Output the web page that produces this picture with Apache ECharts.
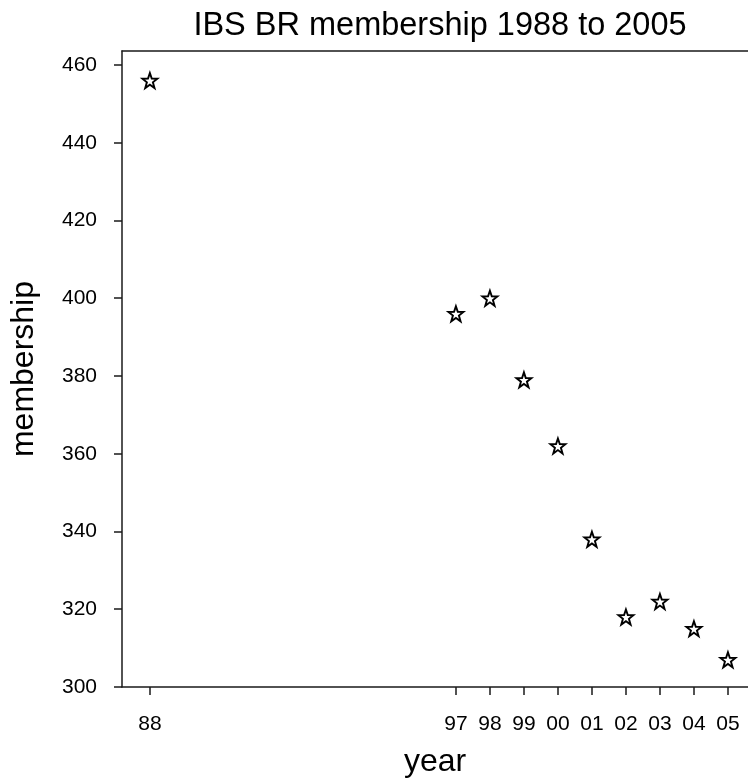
<!DOCTYPE html>
<html>
<head>
<meta charset="utf-8">
<script src="https://cdn.jsdelivr.net/npm/echarts@6/dist/echarts.min.js"></script>
<style>
html,body{margin:0;padding:0;background:#fff;}
#chart{width:748px;height:783px;}
</style>
</head>
<body>
<div id="chart"></div>
<script>
// Data
const years = [1988, 1997, 1998, 1999, 2000, 2001, 2002, 2003, 2004, 2005];
const membership = [456, 396, 400, 379, 362, 338, 318, 322, 315, 307];
const xTickLabels = ['88', '97', '98', '99', '00', '01', '02', '03', '04', '05'];
const yTicks = [300, 320, 340, 360, 380, 400, 420, 440, 460];

const FONT = '"Liberation Sans", Arial, Helvetica, sans-serif';
const STAR = 'path://M50,0L61.8,33.8L97.6,34.5L69,56.2L79.4,90.5L50,70L20.6,90.5L31,56.2L2.4,34.5L38.2,33.8Z';
const LINE = { color: '#1a1a1a', width: 1.5 };

const chart = echarts.init(document.getElementById('chart'), null, { renderer: 'canvas' });
chart.setOption({
  backgroundColor: '#ffffff',
  animation: false,
  title: {
    text: 'IBS BR membership 1988 to 2005',
    left: 440,
    textAlign: 'center',
    top: 10,
    padding: 0,
    textStyle: { fontFamily: FONT, fontSize: 32.5, fontWeight: 'normal', color: '#000' }
  },
  grid: { left: 122, right: 0, top: 51, bottom: 96, containLabel: false },
  xAxis: [{
    type: 'value',
    min: 1987.18,
    max: 2005.59,
    position: 'bottom',
    name: 'year',
    nameLocation: 'middle',
    nameGap: 59,
    nameTextStyle: { fontFamily: FONT, fontSize: 32, color: '#000' },
    axisLine: { show: true, onZero: false, lineStyle: LINE },
    axisTick: { show: true, inside: false, length: 8, lineStyle: LINE, customValues: years },
    axisLabel: {
      show: true, margin: 27, fontFamily: FONT, fontSize: 21, color: '#000',
      customValues: years,
      formatter: function (v) { const i = years.indexOf(Math.round(v)); return i >= 0 ? xTickLabels[i] : ''; }
    },
    splitLine: { show: false }
  }, {
    type: 'value',
    min: 1987.18,
    max: 2005.59,
    position: 'top',
    axisLine: { show: true, onZero: false, lineStyle: LINE },
    axisTick: { show: false },
    axisLabel: { show: false },
    splitLine: { show: false }
  }],
  yAxis: {
    type: 'value',
    min: 300,
    max: 463.6,
    position: 'left',
    name: 'membership',
    nameLocation: 'middle',
    nameRotate: 90,
    nameGap: 82,
    nameTextStyle: { fontFamily: FONT, fontSize: 32, color: '#000' },
    axisLine: { show: true, onZero: false, lineStyle: LINE },
    axisTick: { show: true, inside: false, length: 8, lineStyle: LINE, customValues: yTicks },
    axisLabel: {
      show: true, margin: 25, fontFamily: FONT, fontSize: 21, color: '#000',
      customValues: yTicks, padding: [5, 0, 0, 0]
    },
    splitLine: { show: false }
  },
  series: [{
    type: 'scatter',
    xAxisIndex: 0,
    data: years.map((y, i) => [y, membership[i]]),
    symbol: STAR,
    symbolSize: 15,
    itemStyle: { color: '#ffffff', borderColor: '#000', borderWidth: 1.9, opacity: 1 }
  }]
});
</script>
</body>
</html>
